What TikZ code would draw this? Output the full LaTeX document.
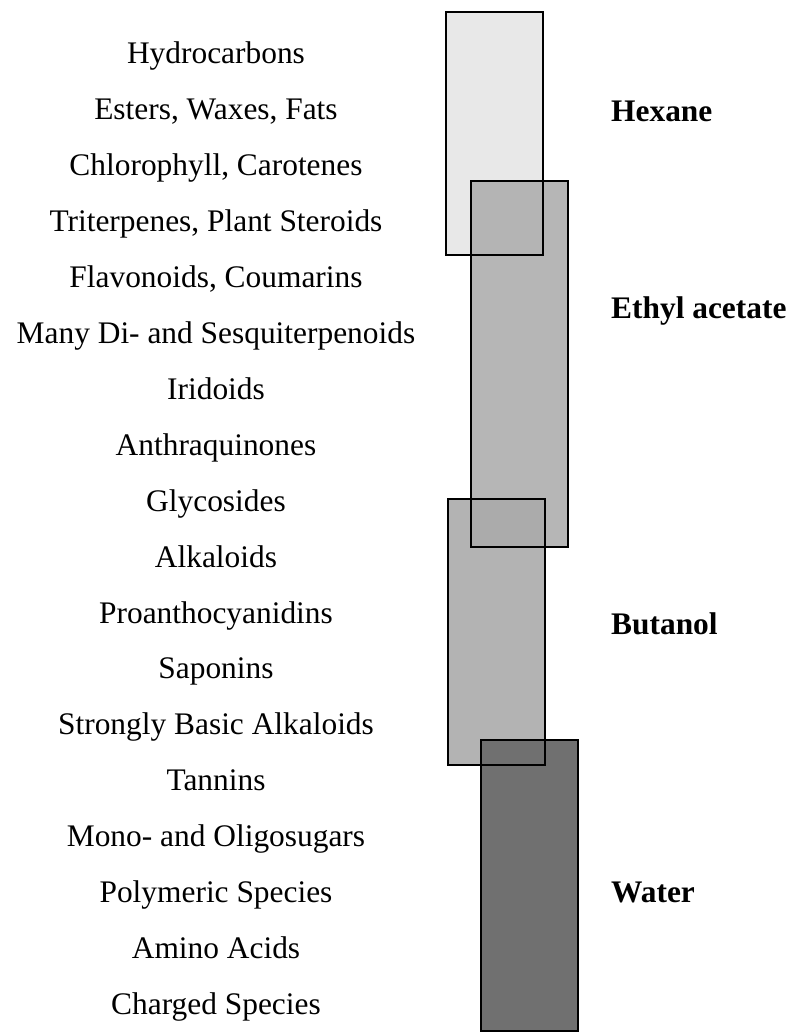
\documentclass[tikz,border=0pt]{standalone}
\usepackage{fontspec}
\setmainfont{Liberation Serif}
\begin{document}
\begin{tikzpicture}[x=1pt,y=-1pt,
  item/.style={anchor=base,inner sep=0pt,font=\fontsize{31.4}{36}\selectfont},
  solvent/.style={anchor=base west,inner sep=0pt,font=\fontsize{31.4}{36}\selectfont\bfseries},
  band/.style={draw=black,line width=2.5pt,minimum width=97pt,inner sep=0pt}]
\useasboundingbox (0,0) rectangle (809,1032);
% bands: fills
\fill[black!9] (446,12) rectangle (543,255);
\fill[black!30,opacity=0.95] (471,181) rectangle (568,547);
\fill[black!33,opacity=0.9] (448,499) rectangle (545,765);
\fill[black!56] (481,740) rectangle (578,1031);
% outlines
\node[band,minimum height=243pt] (hex) at (494.5,133.5) {};
\node[band,minimum height=366pt] (eth) at (519.5,364) {};
\node[band,minimum height=266pt] (but) at (496.5,632) {};
\node[band,minimum height=291pt] (wat) at (529.5,885.5) {};
% compound list
\foreach \t [count=\i from 0] in {Hydrocarbons,{Esters, Waxes, Fats},{Chlorophyll, Carotenes},{Triterpenes, Plant Steroids},{Flavonoids, Coumarins},Many Di- and Sesquiterpenoids,Iridoids,Anthraquinones,Glycosides,Alkaloids,Proanthocyanidins,Saponins,Strongly Basic Alkaloids,Tannins,Mono- and Oligosugars,Polymeric Species,Amino Acids,Charged Species}
  \node[item] (c\i) at (216,64+55.9*\i) {\t};
% solvent labels
\node[solvent] (lhex) at (611,122) {Hexane};
\node[solvent] (leth) at (611,318) {Ethyl acetate};
\node[solvent] (lbut) at (611,634) {Butanol};
\node[solvent] (lwat) at (611,902) {Water};
\end{tikzpicture}
\end{document}
